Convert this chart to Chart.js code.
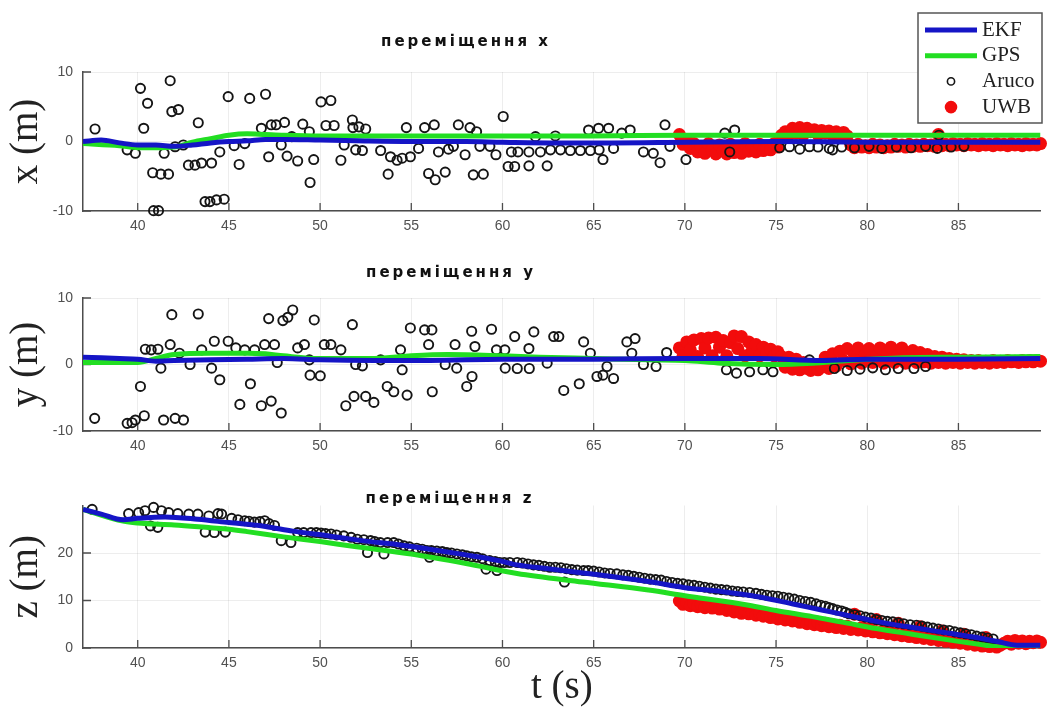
<!DOCTYPE html>
<html>
<head>
<meta charset="utf-8">
<title>переміщення x, y, z</title>
<script src="https://cdn.jsdelivr.net/npm/chart.js@4.4.1/dist/chart.umd.min.js"></script>
<style>
  html, body { margin: 0; padding: 0; background: #fff; }
  #wrap { position: relative; width: 1047px; height: 711px; overflow: hidden; }
  canvas { position: absolute; left: 0; display: block; }
</style>
</head>
<body>
<div id="wrap">
  <canvas id="panelX" width="1047" height="240" style="top:0"></canvas>
  <canvas id="panelY" width="1047" height="222" style="top:240px"></canvas>
  <canvas id="panelZ" width="1047" height="249" style="top:462px"></canvas>
</div>
<script>
// ---- axis ticks ----
const timeTicks = [40, 45, 50, 55, 60, 65, 70, 75, 80, 85];
const xyTicks = [-10, 0, 10];
const zTicks = [0, 10, 20];

// ---- EKF estimate, [t, value] ----
const ekfX = [[37, 0.0], [38, 0.2], [39, -0.2], [40, -0.5], [41, -0.5], [42, -0.7], [43, -0.5], [44, -0.2], [45, 0.0], [46, 0.1], [47, 0.3], [48, 0.3], [50, 0.2], [52, 0.1], [55, 0.0], [58, 0.0], [60, -0.1], [63, -0.2], [66, -0.2], [70, -0.1], [75, 0.0], [80, -0.1], [85, -0.1], [89.5, -0.1]];
const ekfY = [[37, 1.1], [39, 0.9], [40, 0.8], [41, 0.5], [42, 0.6], [44, 0.7], [46, 0.8], [48, 0.9], [50, 0.7], [53, 0.6], [56, 0.6], [60, 0.8], [65, 0.8], [70, 0.9], [74, 0.9], [77.5, 0.6], [80, 0.8], [85, 0.8], [89.5, 0.9]];
const ekfZ = [[37, 29.2], [38, 28.2], [39.2, 27.0], [40, 27.3], [41.5, 27.6], [43.3, 27.1], [45, 26.4], [47, 25.6], [48.5, 24.6], [50.5, 23.6], [52.5, 22.5], [54.2, 21.8], [56, 20.8], [58, 19.6], [59.8, 18.4], [60.8, 17.5], [62.5, 16.7], [64.4, 15.8], [66.3, 14.9], [68, 14.0], [70, 12.7], [72, 11.9], [74, 10.8], [76, 9.2], [77.5, 8.0], [79, 6.8], [80.8, 5.4], [82.5, 4.3], [84.5, 3.1], [86, 2.2], [87.2, 1.3], [88.2, 0.6], [89.5, 0.6]];

// ---- GPS, [t, value] ----
const gpsX = [[37, -0.3], [39, -0.6], [40, -0.9], [41, -0.9], [42, -0.8], [43, -0.1], [44, 0.4], [45, 0.9], [46, 1.1], [47, 1.0], [48, 0.9], [50, 0.8], [55, 0.8], [60, 0.8], [65, 0.8], [70, 0.9], [75, 0.9], [80, 0.9], [85, 0.9], [89.5, 0.9]];
const gpsY = [[37, 0.3], [40, 0.3], [41, 0.9], [42, 1.5], [44, 1.7], [46, 1.7], [47, 1.6], [48, 1.3], [50, 0.9], [53, 0.9], [55, 1.3], [57, 1.5], [60, 1.3], [62, 1.1], [65, 0.9], [68, 0.7], [70, 0.6], [72, 0.2], [75, 0.0], [77, 0.2], [79, 0.6], [82, 1.0], [85, 1.1], [89.5, 1.2]];
const gpsZ = [[37, 29.2], [39.2, 26.7], [40, 26.3], [42, 25.9], [44, 25.3], [45, 25.0], [46, 24.5], [48, 23.4], [50, 22.4], [52, 21.3], [55, 19.8], [58, 17.8], [60.8, 15.7], [64.4, 13.9], [68, 12.2], [70, 11.0], [73.5, 9.0], [75, 7.9], [77, 6.6], [78.7, 5.4], [80.5, 4.1], [82.3, 3.0], [85, 1.4], [87.2, 0.2], [88, -0.1], [89.5, -0.2]];

// ---- Aruco marker detections, [t, value] ----
const arucoX = [[37.66, 1.8], [39.42, -1.2], [39.87, -1.7], [40.15, 7.65], [40.33, 1.9], [40.54, 5.5], [40.82, -4.5], [40.87, -9.95], [41.14, -9.95], [41.27, -4.7], [41.45, -1.7], [41.69, -4.7], [41.78, 8.75], [41.87, 4.3], [42.23, 4.6], [42.05, -0.75], [42.5, -0.5], [42.78, -3.4], [43.14, -3.4], [43.32, 2.7], [43.5, -3.1], [43.69, -8.65], [43.96, -8.65], [44.05, -3.1], [44.32, -8.4], [44.5, -1.5], [44.74, -8.3], [44.96, 6.45], [45.29, -0.6], [45.56, -3.3], [45.87, -0.3], [46.14, 6.2], [46.78, 1.9], [47.01, 6.8], [47.18, -2.2], [47.32, 2.4], [47.59, 2.4], [47.87, -0.5], [48.05, 2.75], [48.19, -2.1], [48.45, 0.7], [48.77, -2.8], [49.05, 2.5], [49.41, 1.4], [49.45, -5.9], [49.65, -2.6], [50.05, 5.7], [50.59, 5.9], [50.32, 2.3], [50.77, 2.3], [51.14, -2.7], [51.32, -0.5], [51.77, 3.1], [51.8, 2.0], [51.95, -1.2], [52.13, 2.1], [52.32, -1.3], [52.5, 1.8], [53.32, -1.3], [53.73, -4.7], [53.86, -2.2], [54.22, -2.7], [54.5, -2.4], [54.73, 2.0], [54.95, -2.2], [55.4, -1.0], [55.73, 2.0], [55.95, -4.6], [56.26, 2.4], [56.31, -5.5], [56.49, -1.5], [56.86, -4.4], [57.04, -1.1], [57.31, -0.7], [57.58, 2.4], [57.95, -1.9], [58.22, 2.0], [58.4, -4.8], [58.58, 1.4], [58.76, -0.7], [58.95, -4.7], [59.31, -0.7], [59.64, -1.9], [60.04, 3.6], [60.31, -3.6], [60.49, -1.5], [60.67, -3.6], [60.85, -1.5], [61.45, -1.5], [61.45, -3.5], [61.81, 0.7], [62.08, -1.5], [62.45, -3.5], [62.63, -1.2], [62.9, 0.8], [63.18, -1.2], [63.72, -1.3], [64.27, -1.3], [64.72, 1.65], [64.82, -1.3], [65.27, 1.9], [65.3, -1.2], [65.51, -2.6], [65.82, 1.9], [66.09, -1.0], [66.54, 1.2], [67.0, 1.65], [67.73, -1.5], [68.27, -1.7], [68.64, -3.05], [68.91, 2.4], [69.18, -0.7], [70.06, -2.6], [72.19, 1.2], [72.46, -1.5], [72.73, 1.65], [75.2, -0.9], [75.74, -0.75], [76.3, -1.1], [76.83, -0.75], [77.3, -0.8], [77.92, -1.0], [78.1, -1.2], [78.6, -0.8], [79.3, -0.9], [80.1, -0.7], [80.8, -1.0], [81.6, -0.8], [82.4, -0.9], [83.2, -0.7], [83.84, -1.0], [83.93, 0.9], [84.6, -0.8], [85.3, -0.7]];
const arucoY = [[37.64, -8.1], [39.42, -8.85], [39.69, -8.75], [39.87, -8.35], [40.15, -3.3], [40.36, -7.7], [40.42, 2.3], [40.74, 2.2], [41.11, 2.3], [41.27, -0.55], [41.42, -8.35], [41.78, 3.0], [41.87, 7.5], [42.05, -8.1], [42.29, 1.7], [42.51, -8.35], [42.87, 0.0], [43.32, 7.6], [43.51, 2.2], [44.05, -0.55], [44.2, 3.5], [44.5, -2.3], [44.96, 3.5], [45.38, 2.5], [45.6, -6.0], [45.87, 2.2], [46.18, -2.9], [46.41, 2.2], [46.78, -6.2], [46.96, 3.0], [47.18, 6.9], [47.32, -5.5], [47.5, 3.0], [47.65, 0.3], [47.87, -7.3], [47.96, 6.6], [48.23, 7.1], [48.5, 8.2], [48.77, 2.5], [49.14, 3.0], [49.41, 0.7], [49.45, -1.6], [49.68, 6.7], [50.01, -1.7], [50.23, 3.0], [50.59, 3.0], [51.14, 2.2], [51.41, -6.2], [51.77, 6.0], [51.86, -4.8], [51.95, 0.0], [52.32, -0.2], [52.5, -4.8], [52.95, -5.7], [53.32, 0.7], [53.68, -3.3], [54.04, -4.1], [54.41, 2.2], [54.5, -0.8], [54.77, -4.6], [54.95, 5.5], [55.73, 5.2], [55.95, 3.0], [56.13, 5.2], [56.15, -4.1], [56.86, 0.0], [57.4, 3.0], [57.49, -0.55], [58.04, -3.3], [58.31, 5.0], [58.33, -1.8], [58.49, 2.7], [59.4, 5.3], [59.67, 2.2], [60.13, 2.2], [60.15, -0.55], [60.67, 4.2], [60.81, -0.6], [61.45, 2.4], [61.47, -0.6], [61.72, 4.9], [62.45, 0.2], [62.81, 4.2], [63.09, 4.2], [63.36, -3.9], [64.21, -2.9], [64.45, 3.4], [64.82, 1.7], [65.18, -1.8], [65.51, -1.6], [65.73, -0.3], [66.09, -2.1], [66.82, 3.4], [67.09, 1.7], [67.27, 3.9], [67.73, 0.0], [68.42, -0.3], [69.0, 1.8], [72.28, -0.8], [72.83, -1.3], [73.55, -1.1], [74.28, -0.8], [74.83, -1.1], [76.83, 0.7], [78.2, -0.6], [78.9, -0.9], [79.6, -0.7], [80.3, -0.5], [81.0, -0.8], [81.7, -0.6], [82.56, -0.6], [83.2, -0.3]];
const arucoZ = [[37.5, 29.2], [39.5, 28.3], [40.05, 28.5], [40.4, 28.9], [40.87, 29.6], [41.3, 28.9], [41.7, 28.5], [42.2, 28.3], [42.8, 28.2], [43.3, 28.2], [43.9, 27.8], [44.4, 28.3], [44.6, 28.2], [40.7, 25.7], [41.1, 25.4], [43.7, 24.4], [44.2, 24.3], [44.8, 24.4], [45.15, 27.3], [45.5, 27.0], [45.87, 26.8], [46.1, 26.7], [46.4, 26.5], [46.7, 26.6], [46.96, 26.8], [47.2, 26.2], [47.5, 25.8], [47.87, 22.6], [48.4, 22.2], [48.77, 24.3], [49.1, 24.3], [49.5, 24.3], [49.8, 24.3], [50.05, 24.2], [50.3, 24.1], [50.6, 24.0], [50.9, 23.8], [51.3, 23.6], [51.7, 23.3], [52.04, 22.9], [52.4, 22.8], [52.77, 22.6], [53.0, 22.4], [53.3, 22.2], [53.7, 22.2], [54.04, 22.2], [54.3, 21.9], [54.6, 21.5], [54.9, 21.3], [55.3, 21.0], [55.6, 20.8], [55.86, 20.5], [56.1, 20.5], [56.4, 20.4], [56.7, 20.3], [56.95, 20.1], [57.2, 20.0], [57.5, 19.8], [57.8, 19.6], [58.04, 19.4], [58.3, 19.2], [58.6, 19.1], [58.9, 18.8], [59.3, 18.4], [59.6, 18.2], [59.85, 18.0], [60.1, 18.0], [60.4, 18.0], [52.6, 20.1], [53.5, 19.8], [56.0, 19.1], [59.1, 16.6], [59.7, 16.3], [60.81, 18.0], [61.1, 17.9], [61.4, 17.7], [61.7, 17.5], [62.0, 17.4], [62.3, 17.2], [62.6, 17.0], [62.9, 17.0], [63.2, 16.9], [63.4, 13.9], [63.5, 16.7], [63.8, 16.5], [64.1, 16.4], [64.45, 16.3], [64.7, 16.3], [65.0, 16.2], [65.3, 16.0], [65.6, 15.8], [65.9, 15.7], [66.27, 15.6], [66.6, 15.4], [66.9, 15.3], [67.2, 15.1], [67.5, 14.9], [67.8, 14.7], [68.1, 14.5], [68.4, 14.4], [68.7, 14.3], [69.0, 14.0], [69.3, 13.8], [69.6, 13.6], [69.9, 13.5], [70.2, 13.3], [70.5, 13.2], [70.8, 13.0], [71.1, 12.8], [71.4, 12.6], [71.7, 12.4], [72.0, 12.3], [72.3, 12.2], [72.6, 12.0], [72.9, 11.9], [73.2, 11.8], [73.55, 11.7], [73.9, 11.5], [74.2, 11.3], [74.5, 11.1], [74.8, 11.0], [75.1, 10.9], [75.4, 10.7], [75.7, 10.5], [76.0, 10.3], [76.3, 10.0], [76.6, 9.8], [76.9, 9.6], [77.2, 9.3], [77.45, 9.0], [77.7, 8.8], [77.9, 8.5], [78.1, 8.3], [78.35, 8.0], [78.6, 7.8], [78.8, 7.5], [79.0, 7.2], [79.3, 7.0], [79.6, 6.8], [79.9, 6.5], [80.2, 6.3], [80.5, 6.0], [80.8, 5.8], [81.1, 5.6], [81.4, 5.5], [81.7, 5.3], [82.0, 5.1], [82.35, 4.9], [82.7, 4.8], [83.0, 4.6], [83.3, 4.4], [83.6, 4.2], [83.9, 4.0], [84.2, 3.8], [84.5, 3.7], [84.8, 3.4], [85.1, 3.2], [85.4, 3.0], [85.7, 2.8], [86.0, 2.5], [86.3, 2.3], [86.6, 2.1], [86.9, 1.9]];

// ---- UWB fixes: shared timestamps, one value list per axis ----
const uwbT = [69.7, 69.9, 70.1, 70.3, 70.5, 70.7, 70.9, 71.1, 71.3, 71.5, 71.7, 71.9, 72.1, 72.3, 72.5, 72.7, 72.9, 73.1, 73.3, 73.5, 73.7, 73.9, 74.1, 74.3, 74.5, 74.7, 74.9, 75.1, 75.3, 75.5, 75.7, 75.9, 76.1, 76.3, 76.5, 76.7, 76.9, 77.1, 77.3, 77.5, 77.7, 77.9, 78.1, 78.3, 78.5, 78.7, 78.9, 79.1, 79.3, 79.5, 79.7, 79.9, 80.1, 80.3, 80.5, 80.7, 80.9, 81.1, 81.3, 81.5, 81.7, 81.9, 82.1, 82.3, 82.5, 82.7, 82.9, 83.1, 83.3, 83.5, 83.7, 83.9, 84.1, 84.3, 84.5, 84.7, 84.9, 85.1, 85.3, 85.5, 85.7, 85.9, 86.1, 86.3, 86.5, 86.7, 86.9, 87.1, 87.3, 87.5, 87.7, 87.9, 88.1, 88.3, 88.5, 88.7, 88.9, 89.1, 89.3, 89.5];
const uwbX = [1.0, -0.4, 0.2, -1.0, -0.3, -1.5, -0.8, -1.7, -0.3, -1.2, -1.8, -0.5, -1.4, -1.8, -0.4, -1.6, -1.0, -1.7, -0.3, -1.4, -0.8, -1.5, -0.4, -1.3, -0.9, -1.2, -0.3, -0.8, 0.9, 1.4, 1.0, 1.9, 1.2, 2.0, 1.0, 1.9, 1.4, 1.7, 1.0, 1.6, 1.2, 1.5, 0.9, 1.4, 1.1, 1.3, 0.8, -0.5, -0.9, -0.4, -0.8, -0.6, -0.9, -0.4, -0.8, -0.5, -0.9, -0.6, -0.8, -0.4, -0.7, -0.5, -0.8, -0.4, -0.7, -0.5, -0.7, -0.4, -0.6, -0.5, -0.7, 1.0, -0.6, -0.4, -0.6, -0.3, -0.5, -0.4, -0.6, -0.3, -0.5, -0.4, -0.6, -0.3, -0.5, -0.4, -0.6, -0.3, -0.5, -0.4, -0.6, -0.3, -0.5, -0.4, -0.6, -0.3, -0.5, -0.4, -0.5, -0.3];
const uwbY = [2.5, 1.3, 3.4, 2.2, 3.7, 1.2, 3.9, 2.5, 4.0, 1.3, 4.1, 2.6, 3.6, 1.3, 3.3, 4.3, 2.4, 4.2, 1.3, 3.4, 2.2, 3.0, 1.3, 2.6, 1.8, 2.3, 1.3, 1.9, 1.2, -0.4, 1.1, -0.7, 0.8, -0.8, 0.3, -0.6, -0.9, -0.5, -0.8, -0.4, 1.1, -0.6, 1.6, -0.2, 2.0, 0.6, 2.4, 0.1, 1.4, 2.5, 0.2, 1.5, 2.4, 0.3, 1.3, 2.5, 0.2, 1.6, 2.6, 0.3, 1.4, 2.5, 0.2, 1.3, 2.1, 0.3, 1.8, 0.4, 1.5, 0.2, 1.2, 0.3, 1.1, 0.2, 0.9, 0.3, 0.8, 0.2, 0.7, 0.3, 0.6, 0.2, 0.6, 0.3, 0.5, 0.2, 0.6, 0.3, 0.5, 0.3, 0.6, 0.4, 0.5, 0.3, 0.6, 0.4, 0.6, 0.4, 0.6, 0.5];
const uwbZ = [9.9, 9.2, 9.6, 8.9, 9.4, 8.7, 9.2, 8.5, 9.1, 8.4, 8.9, 8.2, 8.6, 7.9, 8.3, 7.6, 8.0, 7.3, 7.9, 7.2, 7.6, 6.9, 7.3, 6.7, 7.1, 6.4, 6.8, 6.1, 6.6, 5.9, 6.3, 5.7, 6.1, 5.4, 5.8, 5.1, 5.6, 4.9, 5.4, 4.7, 5.2, 4.5, 4.9, 4.3, 4.8, 4.1, 4.6, 3.9, 7.1, 3.8, 4.3, 3.6, 4.1, 3.4, 6.0, 3.2, 3.7, 3.0, 3.5, 2.8, 5.2, 2.6, 3.0, 2.4, 2.8, 2.2, 4.5, 2.0, 2.4, 1.8, 2.2, 1.6, 3.6, 1.4, 1.8, 1.2, 1.6, 1.0, 2.9, 0.8, 1.1, 0.6, 0.9, 0.4, 2.2, 0.3, 0.5, 0.2, 0.6, 1.0, 1.4, 0.8, 1.6, 1.0, 1.5, 0.9, 1.4, 1.1, 1.5, 1.2];

// ---- styling ----
const EKF_COLOR = '#1515c6';
const GPS_COLOR = '#22de22';
const ARUCO_COLOR = '#151515';
const UWB_COLOR = '#f20c0c';
const AXIS_COLOR = '#4d4d4d';
const GRID_COLOR = 'rgba(0, 0, 0, 0.07)';
const TICK_FONT = { family: 'Liberation Sans', size: 14 };
const LABEL_FONT = { family: 'Liberation Serif', size: 39 };

const toPoints = pairs => pairs.map(([t, v]) => ({ x: t, y: v }));
const uwbPoints = vals => uwbT.map((t, i) => ({ x: t, y: vals[i] }));

function buildDatasets(ekf, gps, aruco, uwb) {
    return [
        {
            type: 'line', label: 'EKF', data: toPoints(ekf),
            borderColor: EKF_COLOR, borderWidth: 5, pointRadius: 0,
            cubicInterpolationMode: 'monotone', fill: false, order: 0
        },
        {
            type: 'line', label: 'GPS', data: toPoints(gps),
            borderColor: GPS_COLOR, borderWidth: 5, pointRadius: 0,
            cubicInterpolationMode: 'monotone', fill: false, order: 1
        },
        {
            type: 'scatter', label: 'Aruco', data: toPoints(aruco),
            pointRadius: 4.6, pointBorderWidth: 1.9,
            borderColor: ARUCO_COLOR, backgroundColor: 'rgba(0,0,0,0)',
            clip: false, order: 2
        },
        {
            type: 'scatter', label: 'UWB', data: uwbPoints(uwb),
            pointRadius: 6.5, pointBorderWidth: 0,
            borderColor: UWB_COLOR, backgroundColor: UWB_COLOR,
            clip: false, order: 3
        }
    ];
}

// subplot heading drawn above the axes
const panelTitle = {
    id: 'panelTitle',
    afterDraw(chart, args, opts) {
        if (!opts.text) return;
        const ctx = chart.ctx;
        ctx.save();
        ctx.font = 'bold 15px "DejaVu Sans"';
        ctx.letterSpacing = '3px';
        ctx.fillStyle = '#111';
        ctx.textAlign = 'center';
        ctx.textBaseline = 'alphabetic';
        ctx.fillText(opts.text, opts.x, opts.y);
        ctx.restore();
    }
};

// MATLAB-style tick marks pointing into the plot
const innerTicks = {
    id: 'innerTicks',
    beforeDatasetsDraw(chart) {
        const { ctx, chartArea, scales } = chart;
        ctx.save();
        ctx.strokeStyle = AXIS_COLOR;
        ctx.lineWidth = 1.3;
        ctx.beginPath();
        scales.x.ticks.forEach(t => {
            const px = scales.x.getPixelForValue(t.value);
            ctx.moveTo(px, chartArea.bottom);
            ctx.lineTo(px, chartArea.bottom - 8);
        });
        scales.y.ticks.forEach(t => {
            const py = scales.y.getPixelForValue(t.value);
            ctx.moveTo(chartArea.left, py);
            ctx.lineTo(chartArea.left + 8, py);
        });
        ctx.stroke();
        ctx.restore();
    }
};

// boxed legend in the top right corner
const boxLegend = {
    id: 'boxLegend',
    afterDraw(chart, args, opts) {
        if (!opts.display) return;
        const ctx = chart.ctx;
        const { left, top, width, height, firstRow, rowGap } = opts;
        ctx.save();
        ctx.fillStyle = '#fff';
        ctx.fillRect(left, top, width, height);
        ctx.strokeStyle = '#555';
        ctx.lineWidth = 1.5;
        ctx.strokeRect(left, top, width, height);
        ['EKF', 'GPS', 'Aruco', 'UWB'].forEach((name, i) => {
            const ds = chart.data.datasets.find(d => d.label === name);
            const y = top + firstRow + i * rowGap;
            if (ds.type === 'line') {
                ctx.strokeStyle = ds.borderColor;
                ctx.lineWidth = ds.borderWidth;
                ctx.beginPath();
                ctx.moveTo(left + 7, y);
                ctx.lineTo(left + 59, y);
                ctx.stroke();
            } else if (name === 'Aruco') {
                ctx.strokeStyle = ds.borderColor;
                ctx.lineWidth = 1.6;
                ctx.beginPath();
                ctx.arc(left + 33, y, 3.6, 0, Math.PI * 2);
                ctx.stroke();
            } else {
                ctx.fillStyle = ds.backgroundColor;
                ctx.beginPath();
                ctx.arc(left + 33, y, 6.3, 0, Math.PI * 2);
                ctx.fill();
            }
            ctx.fillStyle = '#222';
            ctx.font = '21px "Liberation Serif"';
            ctx.textAlign = 'left';
            ctx.textBaseline = 'middle';
            ctx.fillText(name, left + 64, y);
        });
        ctx.restore();
    }
};

function timeAxis(axisHeight, showTitle) {
    return {
        type: 'linear',
        min: 37,
        max: 89.5,
        afterBuildTicks: scale => { scale.ticks = timeTicks.map(v => ({ value: v })); },
        afterFit: scale => { scale.height = axisHeight; },
        grid: { color: GRID_COLOR, drawTicks: false },
        border: { color: AXIS_COLOR, width: 1.5 },
        ticks: { padding: 7, color: '#505050', font: TICK_FONT, autoSkip: false, maxRotation: 0 },
        title: {
            display: showTitle,
            text: 't (s)',
            color: '#222',
            font: LABEL_FONT,
            padding: { top: 0, bottom: 0 }
        }
    };
}

function valueAxis(min, max, ticks, label) {
    return {
        type: 'linear',
        min: min,
        max: max,
        afterBuildTicks: scale => { scale.ticks = ticks.map(v => ({ value: v })); },
        afterFit: scale => { scale.width = 83; },
        grid: { color: GRID_COLOR, drawTicks: false },
        border: { color: AXIS_COLOR, width: 1.5 },
        ticks: { padding: 10, color: '#505050', font: TICK_FONT },
        title: {
            display: true,
            text: label,
            color: '#222',
            font: LABEL_FONT,
            padding: { top: 3, bottom: 0 }
        }
    };
}

function renderPanel(canvasId, cfg) {
    const ctx = document.getElementById(canvasId);
    return new Chart(ctx, {
        type: 'scatter',
        data: { datasets: buildDatasets(cfg.ekf, cfg.gps, cfg.aruco, cfg.uwb) },
        options: {
            responsive: false,
            animation: false,
            events: [],
            layout: { padding: { left: 0, right: 2, top: cfg.padTop, bottom: 0 } },
            scales: {
                x: timeAxis(cfg.xAxisHeight, cfg.showTime),
                y: valueAxis(cfg.min, cfg.max, cfg.ticks, cfg.label)
            },
            plugins: {
                legend: { display: false },
                tooltip: { enabled: false },
                panelTitle: cfg.title,
                boxLegend: cfg.legend || { display: false }
            }
        },
        plugins: [innerTicks, panelTitle, boxLegend]
    });
}

renderPanel('panelX', {
    ekf: ekfX, gps: gpsX, aruco: arucoX, uwb: uwbX,
    padTop: 72, xAxisHeight: 29, showTime: false,
    min: -10, max: 10, ticks: xyTicks, label: 'x (m)',
    title: { text: 'переміщення x', x: 466, y: 46 },
    legend: { display: true, left: 918, top: 13, width: 124, height: 110, firstRow: 17, rowGap: 25.7 }
});

renderPanel('panelY', {
    ekf: ekfY, gps: gpsY, aruco: arucoY, uwb: uwbY,
    padTop: 58, xAxisHeight: 31, showTime: false,
    min: -10, max: 10, ticks: xyTicks, label: 'y (m)',
    title: { text: 'переміщення y', x: 451, y: 36.5 }
});

renderPanel('panelZ', {
    ekf: ekfZ, gps: gpsZ, aruco: arucoZ, uwb: uwbZ,
    padTop: 43.5, xAxisHeight: 63, showTime: true,
    min: 0, max: 30, ticks: zTicks, label: 'z (m)',
    title: { text: 'переміщення z', x: 450, y: 40.7 }
});
</script>
</body>
</html>
